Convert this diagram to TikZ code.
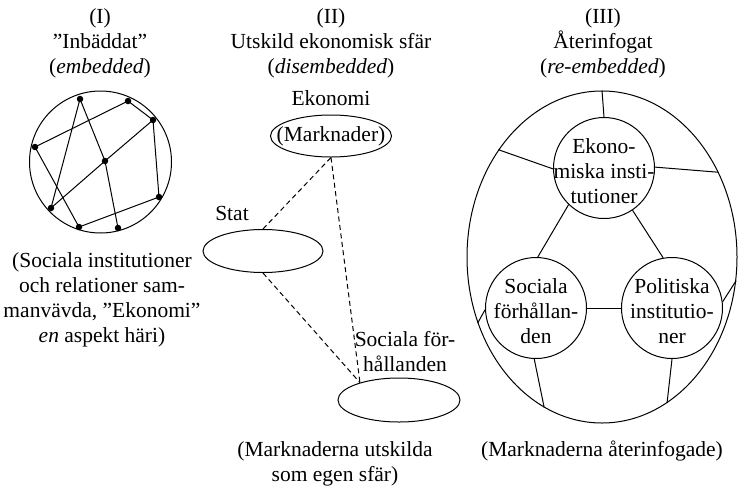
\documentclass[tikz,border=0pt]{standalone}
\usepackage{fontspec}
\setmainfont{Liberation Serif}
\usetikzlibrary{shapes.geometric}
\tikzset{
  txt/.style={font=\fontsize{21.5}{25}\selectfont, inner sep=0pt, align=center, anchor=base},
  dot/.style={circle, fill=black, inner sep=0pt, minimum size=6.5pt},
  ln/.style={line width=1pt},
  dsh/.style={line width=1pt, dash pattern=on 5pt off 3.5pt},
  ell/.style={ellipse, draw, line width=1pt, inner sep=0pt},
  circ/.style={circle, draw, line width=1pt, inner sep=0pt, minimum size=101pt},
}
\begin{document}
\begin{tikzpicture}[x=1pt,y=-1pt]
\useasboundingbox (0,0) rectangle (738,485);
% headings (base anchor = baseline of the last line)
\node[txt] (h1) at (100,73) {(I)\\”Inbäddat”\\(\textit{embedded})};
\node[txt] (h2) at (331,73) {(II)\\Utskild ekonomisk sfär\\(\textit{disembedded})};
\node[txt] (h3) at (603,73) {(III)\\Återinfogat\\(\textit{re-embedded})};
% panel I
\node[circle, draw, ln, inner sep=0pt, minimum size=142pt] (c1) at (100.5,162) {};
\node[dot] (a) at (80,99) {};
\node[dot] (b) at (128,101) {};
\node[dot] (c) at (153,120) {};
\node[dot] (d) at (35,147) {};
\node[dot] (e) at (105,161) {};
\node[dot] (f) at (159,197) {};
\node[dot] (g) at (51,208) {};
\node[dot] (h) at (79,227) {};
\node[dot] (i) at (118,228) {};
\draw[ln] (a.center) -- (g.center);
\draw[ln] (a.center) -- (e.center) -- (i.center);
\draw[ln] (d.center) -- (b.center) -- (c.center) -- (f.center) -- (h.center) -- (d.center);
\draw[ln] (c.center) -- (e.center) -- (g.center);
\node[txt] (b1) at (102,342) {(Sociala institutioner\\och relationer sam-\\manvävda, ”Ekonomi”\\\textit{en} aspekt häri)};
% panel II
\node[txt] (ekl) at (331,105) {Ekonomi};
\node[ell, minimum width=121pt, minimum height=42pt] (mk) at (331,136) {};
\node[txt, anchor=center] (mkt) at (331,136) {(Marknader)};
\node[txt] (stl) at (232,220) {Stat};
\node[ell, minimum width=120pt, minimum height=43pt] (st) at (263,251) {};
\node[txt] (sol) at (405,371) {Sociala för-\\hållanden};
\node[ell, minimum width=122pt, minimum height=44pt] (so) at (399,400) {};
\coordinate (sotop) at (so.156);
\draw[dsh] (st.north) -- (mk.south);
\draw[dsh] (mk.south) -- (sotop);
\draw[dsh] (st.south) -- (sotop);
\node[txt] (b2) at (335,481) {(Marknaderna utskilda\\som egen sfär)};
% panel III
\node[ell, minimum width=270pt, minimum height=332pt] (big) at (602,257) {};
\node[circ] (ek) at (604,168) {};
\node[circ] (sc) at (536,308) {};
\node[circ] (po) at (672,308) {};
\node[txt] (ekt) at (604,203) {Ekono-\\miska insti-\\tutioner};
\node[txt] (sct) at (536,343) {Sociala\\förhållan-\\den};
\node[txt] (pot) at (672,343) {Politiska\\institutio-\\ner};
\draw[ln] (ek.90) -- (big.90);
\draw[ln] (ek.181) -- (big.134.7);
\draw[ln] (ek.1) -- (big.36.2);
\draw[ln] (ek.226) -- (sc.88);
\draw[ln] (ek.304) -- (po.100);
\draw[ln] (sc.0) -- (po.180);
\draw[ln] (sc.182) -- (big.208.7);
\draw[ln] (po.7) -- (big.350.3);
\draw[ln] (sc.268) -- (big.249.5);
\draw[ln] (po.270) -- (big.294.7);
\node[txt] (b3) at (602,456) {(Marknaderna återinfogade)};
\end{tikzpicture}
\end{document}
